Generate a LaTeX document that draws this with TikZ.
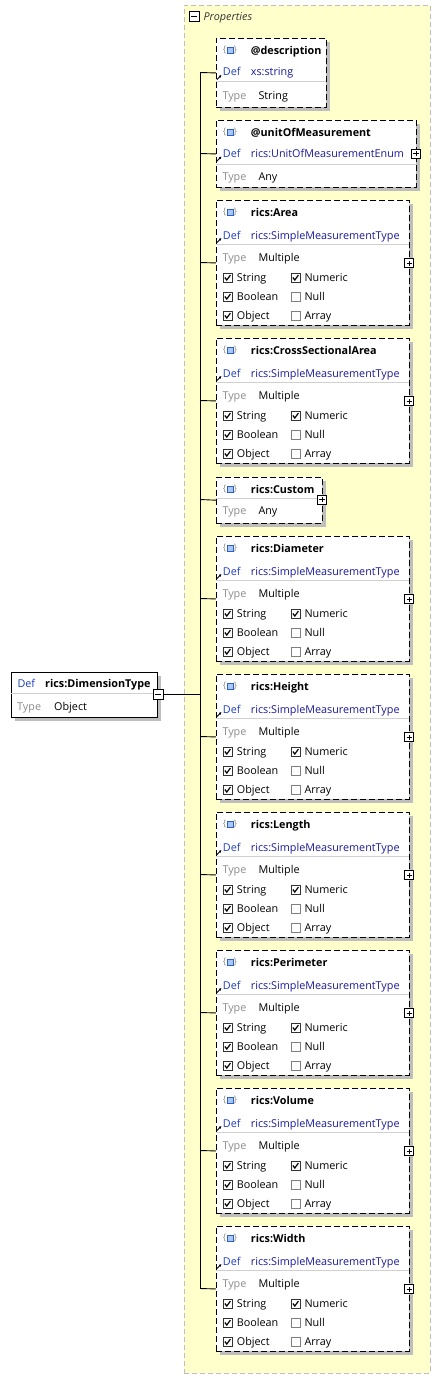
\documentclass[tikz,border=0pt]{standalone}
\usepackage{fontspec}
\setmainfont{Open Sans}
\usetikzlibrary{arrows.meta}
\definecolor{propfill}{HTML}{FFFFCC}
\definecolor{propborder}{HTML}{BDBDBD}
\definecolor{defblue}{HTML}{1F3FBF}
\definecolor{typenavy}{HTML}{1A1A99}
\definecolor{lblgray}{HTML}{8C8C8C}
\definecolor{sepgray}{HTML}{D0D0D0}
\definecolor{shadowgray}{HTML}{BEBEBE}
\definecolor{iconblue}{HTML}{2A5FD0}
\definecolor{iconfill}{HTML}{A9C8F5}
\tikzset{
  txt/.style={anchor=base west, inner sep=0pt, font=\fontsize{10.8}{13}\selectfont},
  ttl/.style={anchor=base west, inner sep=0pt, font=\fontsize{10.8}{13}\selectfont\bfseries},
  deflbl/.style={txt, text=defblue},
  typename/.style={txt, text=typenavy},
  typelbl/.style={txt, text=lblgray},
  val/.style={txt, text=black},
  ebox/.style={draw=black, line width=0.9pt, dash pattern=on 6pt off 3pt, fill=white,
    anchor=north west, inner sep=0pt},
  sbox/.style={draw=black, line width=0.9pt, fill=white, anchor=north west, inner sep=0pt},
  shade/.style={fill=shadowgray},
  sep/.style={draw=sepgray, line width=0.8pt},
  pmbox/.style={draw=black, fill=white, line width=0.7pt, minimum size=9pt, inner sep=0pt},
  wire/.style={draw=black, line width=0.9pt},
  refarrow/.style={draw=black, line width=0.9pt, -{Latex[length=2.6pt,width=2.8pt]}},
  cbon/.style={draw=black!80, fill=white, line width=0.7pt},
  cboff/.style={draw=black!50, fill=white, line width=0.7pt},
  tick/.style={draw=black, line width=1.2pt},
  container/.style={draw=propborder, fill=propfill, line width=0.8pt,
    dash pattern=on 5pt off 3pt, anchor=north west, inner sep=0pt},
}
% plus / minus box
\newcommand\plusbox[3]{%
  \node[pmbox] (#1) at (#2,#3) {};
  \draw[line width=0.8pt] ([xshift=-2.8pt]#1.center) -- ([xshift=2.8pt]#1.center);
  \draw[line width=0.8pt] ([yshift=-2.8pt]#1.center) -- ([yshift=2.8pt]#1.center);
}
\newcommand\minusbox[3]{%
  \node[pmbox, minimum size=10pt] (#1) at (#2,#3) {};
  \draw[line width=0.8pt] ([xshift=-3pt]#1.center) -- ([xshift=3pt]#1.center);
}
% element icon  {[]}
\newcommand\elicon[3]{%
  \node[inner sep=0pt, text=lblgray, font=\fontsize{9}{10}\selectfont] (#1l) at (224.6,{#3-0.5}) {\{};
  \node[inner sep=0pt, text=lblgray, font=\fontsize{9}{10}\selectfont] (#1r) at (235.4,{#3-0.5}) {\}};
  \draw[draw=iconblue, fill=iconfill, line width=0.8pt] (227,{#3-3}) rectangle (233,{#3+3});
}
% checkbox: name, x, y(center), checked(1/0)
\newcommand\chk[4]{%
  \ifnum#4=1
    \draw[cbon] (#2,{#3-4.5}) rectangle ({#2+9},{#3+4.5});
    \draw[tick] ({#2+1.8},{#3-0.2}) -- ({#2+3.8},{#3+2.3}) -- ({#2+7.4},{#3-2.6});
  \else
    \draw[cboff] (#2,{#3-4.5}) rectangle ({#2+9},{#3+4.5});
  \fi
}
% multiple-type element box: name, top, title
\newcommand\multientry[3]{%
  \fill[shade] (220,{#2+4}) rectangle (413,{#2+129});
  \node[ebox, minimum width=193pt, minimum height=125pt] (#1) at (216,#2) {};
  \draw[sep] (216,{#2+44.3}) -- (409,{#2+44.3});
  \elicon{#1i}{229}{#2+12.7}
  \node[ttl] (#1t) at (250.7,{#2+16.7}) {#3};
  \node[deflbl] (#1d) at (222.7,{#2+39}) {Def};
  \draw[refarrow] (217,{#2+42.5}) -- (221.5,{#2+38});
  \node[typename] (#1n) at (250.7,{#2+39}) {rics:SimpleMeasurementType};
  \node[typelbl] (#1y) at (222.3,{#2+61.3}) {Type};
  \node[val] (#1v) at (258.3,{#2+61.3}) {Multiple};
  \chk{#1c1}{223}{#2+77.7}{1}
  \node[val] (#1s) at (236.7,{#2+81.7}) {String};
  \chk{#1c2}{291}{#2+77.7}{1}
  \node[val] (#1u) at (304.3,{#2+81.7}) {Numeric};
  \chk{#1c3}{223}{#2+96.7}{1}
  \node[val] (#1b) at (236.7,{#2+100.7}) {Boolean};
  \chk{#1c4}{291}{#2+96.7}{0}
  \node[val] (#1z) at (304.3,{#2+100.7}) {Null};
  \chk{#1c5}{223}{#2+115.7}{1}
  \node[val] (#1o) at (236.7,{#2+119.7}) {Object};
  \chk{#1c6}{291}{#2+115.7}{0}
  \node[val] (#1a) at (304.3,{#2+119.7}) {Array};
  \plusbox{#1p}{409.3}{#2+63.3}
  \coordinate (j#1) at (200,{#2+62.5});
  \draw[wire] (j#1) -- (#1.west);
}
\begin{document}
\begin{tikzpicture}[x=1pt,y=-1pt]
\useasboundingbox (0,0) rectangle (441,1379);
\fill[white] (0,0) rectangle (441,1379);

% Properties container
\node[container, minimum width=246pt, minimum height=1368pt] (props) at (184,5) {};
\minusbox{propsm}{194}{16}
\node[txt, text=black!80, font=\fontsize{10.8}{13}\selectfont\itshape] (propst) at (203.3,20) {Properties};

% @description
\fill[shade] (220,42) rectangle (330,111);
\node[ebox, minimum width=110pt, minimum height=69pt] (desc) at (216,38) {};
\draw[sep] (216,81.7) -- (326,81.7);
\elicon{desci}{229}{50}
\node[ttl] (desct) at (250.7,54) {@description};
\node[deflbl] (descd) at (222.7,75.7) {Def};
\draw[refarrow] (217,79.5) -- (221.5,75);
\node[typename] (descn) at (250.7,75.7) {xs:string};
\node[typelbl] (descy) at (222.3,99.5) {Type};
\node[val] (descv) at (258.3,99.5) {String};
\coordinate (jdesc) at (200,72.5);
\draw[wire] (jdesc) -- (desc.west);

% @unitOfMeasurement
\fill[shade] (220,124) rectangle (420,191);
\node[ebox, minimum width=200pt, minimum height=67pt] (uom) at (216,120) {};
\draw[sep] (216,164) -- (416,164);
\elicon{uomi}{229}{132.3}
\node[ttl] (uomt) at (250.7,136.3) {@unitOfMeasurement};
\node[deflbl] (uomd) at (222.7,157.3) {Def};
\draw[refarrow] (217,161) -- (221.5,156.5);
\node[typename] (uomn) at (250.7,157.3) {rics:UnitOfMeasurementEnum};
\node[typelbl] (uomy) at (222.3,180) {Type};
\node[val] (uomv) at (258.3,180) {Any};
\plusbox{uomp}{416}{153.5}
\coordinate (juom) at (200,153.5);
\draw[wire] (juom) -- (uom.west);

% multiple-type entries
\multientry{area}{200}{rics:Area}
\multientry{csa}{338}{rics:CrossSectionalArea}

% rics:Custom
\fill[shade] (220,481) rectangle (326,526.5);
\node[ebox, minimum width=106pt, minimum height=45.5pt] (cust) at (216,477) {};
\draw[sep] (216,498.3) -- (322,498.3);
\elicon{custi}{229}{489}
\node[ttl] (custt) at (250.7,493) {rics:Custom};
\node[typelbl] (custy) at (222.3,514.7) {Type};
\node[val] (custv) at (258.3,514.7) {Any};
\plusbox{custp}{322}{499.5}
\coordinate (jcust) at (200,499.5);
\draw[wire] (jcust) -- (cust.west);

\multientry{diam}{536}{rics:Diameter}
\multientry{height}{674}{rics:Height}
\multientry{length}{812}{rics:Length}
\multientry{perim}{950}{rics:Perimeter}
\multientry{vol}{1088}{rics:Volume}
\multientry{width}{1226}{rics:Width}

% vertical bus
\draw[wire] (jdesc) -- (jwidth);

% rics:DimensionType
\fill[shade] (14.7,675.7) rectangle (161.3,721.3);
\node[sbox, minimum width=146.6pt, minimum height=45.6pt] (dim) at (10.7,671.7) {};
\draw[sep] (10.7,693.7) -- (157.3,693.7);
\node[deflbl] (dimd) at (17.3,687.3) {Def};
\node[ttl] (dimt) at (45,687.3) {rics:DimensionType};
\node[typelbl] (dimy) at (17,710) {Type};
\node[val] (dimv) at (54,710) {Object};
\minusbox{dimm}{158}{694}
\coordinate (jdim) at (200,694);
\draw[wire] (dimm.east) -- (jdim);
\end{tikzpicture}
\end{document}
